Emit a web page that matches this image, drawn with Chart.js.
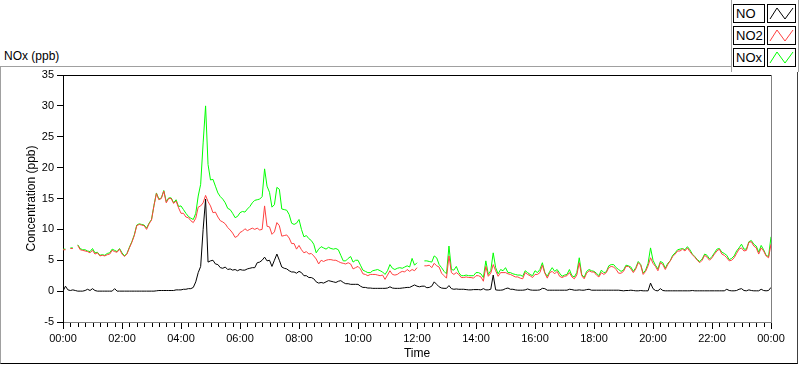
<!DOCTYPE html>
<html>
<head>
<meta charset="utf-8">
<script src="https://cdn.jsdelivr.net/npm/chart.js@4/dist/chart.umd.min.js"></script>
<style>
  html, body { margin:0; padding:0; background:#fff; }
  #wrap { position:relative; width:800px; height:365px; overflow:hidden; background:#fff; font-family:"Liberation Sans", Arial, sans-serif; }
  #frame { position:absolute; left:0; top:66px; width:796px; height:296px; border-top:1px solid #a0a0a0; border-left:1px solid #a0a0a0; border-right:1px solid #404040; border-bottom:1px solid #000; box-sizing:content-box; }
  #title { position:absolute; left:4px; top:49px; font-size:12px; color:#000; }
  #legend { position:absolute; left:731px; top:0; width:66px; height:72px; background:#fff; border-left:1px solid #a0a0a0; border-right:1px solid #a0a0a0; }
  .lt { position:absolute; left:1px; width:28px; height:17px; border:1px solid #000; background:#fff; font-size:13px; line-height:17px; padding-left:2px; color:#000; }
  .li { position:absolute; left:35px; width:27px; height:17px; border:1px solid #000; background:#fff; }
  canvas { position:absolute; left:0; top:0; }
</style>
</head>
<body>
<div id="wrap">
  <div id="frame"></div>
  <div id="title">NOx (ppb)</div>
  <canvas id="c" width="800" height="365"></canvas>
  <div id="legend"></div>
</div>
<script>
// ---- data (5‑minute samples over 24 h) ----
const seriesNames = ["NO", "NO2", "NOx"];
const seriesColors = ["#000000", "#ff4040", "#00ff00"];

const no = [
0.0,0.8,0.2,0.1,0.2,0.1,0.0,0.0,0.0,0.1,
0.3,0.1,0.4,0.1,0.0,0.0,0.0,0.0,0.0,0.0,
0.0,0.4,0.0,0.0,0.0,0.0,0.0,0.0,0.0,0.0,
0.0,0.0,0.0,0.0,0.0,0.0,0.0,0.0,0.05,0.1,
0.1,0.1,0.1,0.1,0.1,0.1,0.2,0.2,0.2,0.3,
0.3,0.4,0.4,0.6,1.5,3.0,4.0,10.0,14.9,4.7,
4.9,5.0,4.4,4.3,3.8,3.7,3.9,3.5,3.6,3.4,
3.5,3.3,3.5,3.4,3.4,3.6,3.7,3.8,3.8,4.6,
4.7,5.0,5.5,4.9,5.0,4.0,5.0,6.0,5.0,3.9,
3.7,3.6,3.3,3.1,3.1,2.9,3.2,3.0,2.5,2.5,
2.2,2.2,2.0,1.5,1.3,1.4,1.3,1.5,1.7,1.6,
1.5,1.4,1.6,1.7,1.4,1.2,1.2,1.1,1.1,1.1,
1.1,0.8,0.6,0.6,0.5,0.5,0.45,0.45,0.45,0.45,
0.45,0.45,0.5,0.7,0.5,0.45,0.45,0.45,0.5,0.55,
0.6,0.6,0.8,1.0,0.8,0.7,0.8,0.8,0.55,0.6,
0.8,1.5,1.1,0.7,0.5,0.45,0.45,0.9,0.4,0.3,
0.35,0.3,0.3,0.3,0.25,0.2,0.2,0.25,0.25,0.25,
0.2,0.4,0.2,0.2,0.3,2.6,0.2,0.15,0.15,0.2,
0.4,0.5,0.3,0.3,0.2,0.15,0.15,0.15,0.2,0.35,
0.2,0.15,0.15,0.15,0.2,0.45,0.4,0.15,0.15,0.15,
0.15,0.15,0.15,0.15,0.15,0.15,0.3,0.25,0.15,0.15,
0.2,0.15,0.15,0.25,0.3,0.15,0.15,0.15,0.15,0.15,
0.15,0.15,0.15,0.15,0.15,0.15,0.15,0.1,0.05,0.1,
0.1,0.15,0.1,0.05,0.05,0.1,0.05,0.05,0.05,1.3,
0.4,0.1,0.05,0.4,0.1,0.05,0.05,0.05,0.05,0.05,
0.05,0.05,0.05,0.05,0.05,0.05,0.1,0.05,0.05,0.05,
0.05,0.05,0.05,0.05,0.05,0.05,0.05,0.05,0.05,0.05,
0.3,0.1,0.05,0.05,0.1,0.3,0.4,0.1,0.05,0.2,
0.1,0.05,0.05,0.05,0.3,0.1,0.05,0.1,0.6
];

const no2 = [
6.7,6.7,null,6.9,6.9,null,7.4,6.7,6.6,6.5,
6.4,6.2,6.6,6.0,6.2,5.7,5.8,5.7,5.9,6.0,
6.6,6.4,6.3,6.8,6.0,5.6,6.0,7.0,7.9,9.0,
10.6,10.8,10.7,10.6,10.0,10.9,11.5,13.8,15.8,14.8,
15.0,16.2,14.3,15.0,15.0,14.2,14.6,13.5,12.6,12.6,
12.0,11.9,11.4,11.1,11.8,13.6,13.8,14.3,15.5,14.5,
13.8,12.7,12.8,12.0,11.4,11.2,10.9,10.3,9.9,9.4,
8.7,8.9,9.5,9.7,10.1,9.8,10.0,10.2,10.0,10.2,
9.9,10.0,13.8,10.5,10.4,9.2,9.6,11.1,10.6,8.9,
9.0,9.1,8.6,7.7,7.7,6.8,7.4,6.7,6.2,6.4,
6.0,6.1,5.7,5.2,4.4,5.0,4.8,5.0,5.1,5.1,
5.0,5.0,4.8,4.6,4.5,4.4,4.6,4.4,3.6,3.8,
4.0,3.6,2.8,2.7,2.5,2.7,2.7,2.7,2.6,2.5,
2.6,1.9,2.6,3.3,2.7,2.6,2.7,3.0,3.2,3.1,
3.5,3.2,3.5,3.3,3.8,null,null,4.1,4.1,4.2,
3.8,4.5,4.1,3.9,2.9,2.5,2.1,5.7,3.0,2.7,
3.0,2.7,2.2,2.2,2.3,2.2,2.2,2.1,2.5,2.5,
2.3,1.6,4.0,2.4,2.9,4.3,3.3,2.4,3.0,3.0,
3.0,2.8,2.7,2.5,2.3,2.3,2.1,2.0,3.0,2.7,
2.5,2.2,2.7,2.7,3.0,4.2,2.9,2.1,3.0,3.2,
2.8,3.2,2.4,2.2,2.4,2.5,3.0,2.3,2.0,2.6,
4.6,2.5,2.0,2.9,3.3,3.1,3.1,2.6,2.3,3.0,
2.7,3.0,3.8,4.0,3.9,3.5,2.9,2.9,3.2,4.0,
4.0,3.6,3.0,3.6,4.6,4.2,2.7,3.2,4.1,5.4,
4.5,4.0,3.3,4.6,4.3,3.5,4.3,4.9,5.6,6.0,
6.5,6.5,6.8,6.5,7.0,6.4,5.9,5.5,5.0,4.6,
5.0,5.8,5.5,5.0,5.4,6.0,6.5,6.8,6.0,5.8,
5.4,4.9,5.0,5.4,6.1,6.8,7.0,6.5,6.6,7.9,
8.0,7.3,7.0,6.0,7.0,6.5,5.7,5.4,7.6
];

const nox = [
6.8,6.8,null,7.0,7.0,null,7.5,6.9,6.7,6.7,
6.5,6.4,6.9,6.2,6.3,5.8,5.9,5.8,6.1,6.2,
6.8,6.6,6.4,6.9,6.2,5.7,6.1,7.1,8.0,9.1,
10.7,10.9,10.8,10.7,10.2,11.0,11.6,13.9,15.9,14.9,
15.1,16.3,14.5,15.1,15.1,14.3,14.8,13.7,13.8,13.2,
12.6,12.1,11.8,11.6,12.6,15.4,17.3,24.0,30.0,20.5,
18.0,18.1,17.0,15.9,15.3,14.9,14.3,13.4,13.2,12.6,
11.9,12.1,12.7,12.9,12.8,13.3,13.7,14.3,14.7,14.8,
14.9,15.3,19.8,17.0,16.0,13.6,14.0,16.8,16.5,13.3,
13.2,13.1,12.4,11.0,10.8,11.0,11.6,10.0,8.8,9.0,
8.5,8.2,7.6,6.2,6.8,7.2,7.0,6.8,7.1,6.9,
6.8,6.9,6.7,5.8,4.9,4.9,5.3,5.6,4.7,5.0,
5.0,4.2,3.4,3.2,3.0,3.0,3.3,3.4,3.5,3.3,
3.1,2.7,3.3,4.3,3.7,3.5,3.7,3.8,3.7,3.9,
4.1,3.9,5.3,4.2,4.6,null,null,4.9,4.9,4.8,
4.7,5.7,5.4,4.3,3.8,3.2,2.8,7.3,3.5,3.4,
4.0,3.0,2.5,2.5,2.6,2.5,2.5,2.5,3.0,3.0,
2.8,2.2,4.9,2.7,3.3,6.2,3.8,2.8,3.5,3.3,
3.8,3.0,3.0,2.8,2.7,2.6,2.6,2.4,3.3,3.0,
2.7,2.5,3.3,3.0,3.5,4.6,3.0,2.4,3.2,3.8,
3.2,3.5,2.9,2.4,2.6,2.7,3.5,2.5,2.3,3.0,
5.4,2.7,2.2,3.2,3.5,3.3,3.2,2.9,2.5,3.4,
3.0,3.1,4.1,4.3,4.3,3.8,3.5,3.2,3.4,4.2,
4.1,3.9,3.2,3.8,4.8,4.3,2.9,3.4,4.5,7.0,
5.0,4.2,3.6,4.8,4.6,3.7,4.5,4.9,5.8,6.2,
6.7,6.8,6.9,6.7,7.2,6.7,6.0,5.6,5.1,4.8,
5.2,6.0,5.8,5.2,5.6,6.2,6.8,6.9,6.3,6.1,
5.8,5.1,5.3,5.7,6.5,7.0,7.6,6.8,6.8,8.0,
8.2,7.6,7.3,6.3,7.4,6.7,5.8,5.6,8.8
];

// time of each sample in minutes since 00:00
const minutes = no.map((_, i) => i * 5);

const xTickStep = 120;   // major tick every 2 h
const xMinorStep = 15;   // minor tick every 15 min
const yTickValues = [-5, 0, 5, 10, 15, 20, 25, 30, 35];

function fmtTime(m) {
  const h = Math.floor(m / 60) % 24, mm = m % 60;
  return String(h).padStart(2, "0") + ":" + String(mm).padStart(2, "0");
}

// ---- legend (HTML text) ----
const legendEl = document.getElementById("legend");
seriesNames.forEach((name, k) => {
  const top = 4 + k * 22;
  const t = document.createElement("div");
  t.className = "lt"; t.style.top = top + "px"; t.textContent = name;
  legendEl.appendChild(t);
  const ic = document.createElement("div");
  ic.className = "li"; ic.style.top = top + "px";
  ic.innerHTML = '<svg width="27" height="17"><polyline points="2,14 9,3 17,14 25,3" fill="none" stroke="' + seriesColors[k] + '" stroke-width="1"/></svg>';
  legendEl.appendChild(ic);
});

const toXY = arr => arr.map((v, i) => ({ x: minutes[i], y: v }));

const framePlugin = {
  id: "framePlugin",
  afterDraw(chart) {
    const ctx = chart.ctx, a = chart.chartArea, xs = chart.scales.x;
    ctx.save();
    ctx.lineWidth = 1;
    ctx.strokeStyle = "#000";
    ctx.beginPath(); ctx.moveTo(a.left, Math.round(a.top) + 0.5); ctx.lineTo(a.right, Math.round(a.top) + 0.5); ctx.stroke();
    ctx.strokeStyle = "#808080";
    ctx.beginPath(); ctx.moveTo(Math.round(a.right) + 0.5, a.top); ctx.lineTo(Math.round(a.right) + 0.5, a.bottom + 1); ctx.stroke();
    ctx.strokeStyle = "#000";
    ctx.beginPath();
    for (let m = 0; m <= 1440; m += xMinorStep) {
      if (m % xTickStep === 0) continue;
      const px = Math.round(xs.getPixelForValue(m)) + 0.5;
      ctx.moveTo(px, Math.round(a.bottom) + 1);
      ctx.lineTo(px, Math.round(a.bottom) + 5);
    }
    ctx.stroke();
    ctx.restore();
  }
};

const font = { family: "'Liberation Sans', Arial, sans-serif", size: 11 };

new Chart(document.getElementById("c"), {
  type: "line",
  data: {
    datasets: [
      { label: seriesNames[0], data: toXY(no),  borderColor: seriesColors[0], borderWidth: 1, pointRadius: 0, tension: 0, spanGaps: false },
      { label: seriesNames[1], data: toXY(no2), borderColor: seriesColors[1], borderWidth: 1, pointRadius: 0, tension: 0, spanGaps: false },
      { label: seriesNames[2], data: toXY(nox), borderColor: seriesColors[2], borderWidth: 1, pointRadius: 0, tension: 0, spanGaps: false }
    ]
  },
  options: {
    responsive: false,
    animation: false,
    devicePixelRatio: 1,
    events: [],
    layout: { padding: { top: 75, right: 29, left: 0, bottom: 0 } },
    plugins: { legend: { display: false }, tooltip: { enabled: false } },
    scales: {
      x: {
        type: "linear", min: 0, max: 1440,
        afterBuildTicks: s => { s.ticks = []; for (let m = 0; m <= 1440; m += xTickStep) s.ticks.push({ value: m }); },
        afterFit: s => { s.height = 43; },
        ticks: { callback: v => fmtTime(v), font: font, color: "#000", padding: 3, maxRotation: 0, autoSkip: false },
        grid: { drawOnChartArea: false, tickLength: 7, color: "#000" },
        border: { display: true, color: "#808080" },
        title: { display: true, text: "Time", font: { family: font.family, size: 12 }, color: "#000", padding: { top: 0, bottom: 4 } }
      },
      y: {
        min: -5, max: 35,
        afterBuildTicks: s => { s.ticks = yTickValues.map(v => ({ value: v })); },
        afterFit: s => { s.width = 63; },
        ticks: { font: font, color: "#000", padding: 3 },
        grid: { drawOnChartArea: false, tickLength: 6, color: "#000" },
        border: { display: true, color: "#000" },
        title: { display: true, text: "Concentration (ppb)", font: { family: font.family, size: 12 }, color: "#000", padding: { top: 24, bottom: 0 } }
      }
    }
  },
  plugins: [framePlugin]
});
</script>
</body>
</html>
